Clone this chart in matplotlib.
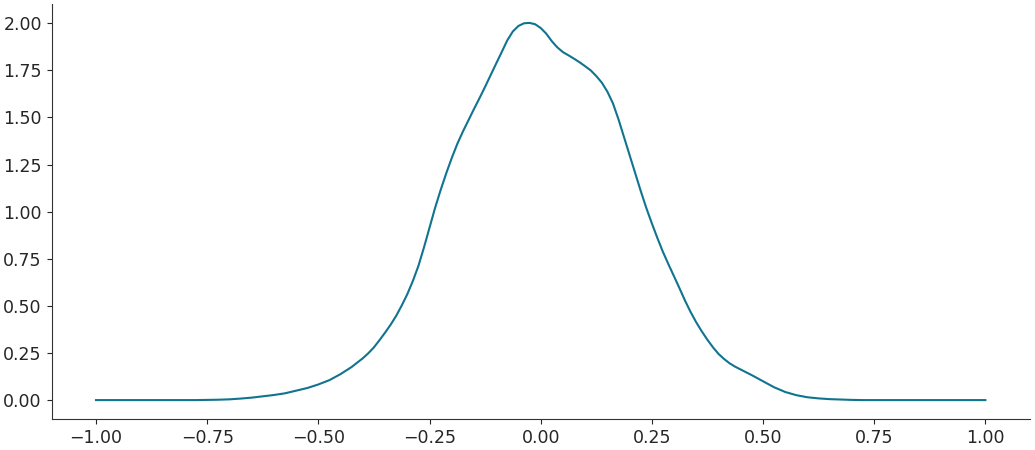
import matplotlib
matplotlib.use("Agg")
import matplotlib.pyplot as plt

# density curve (finer steps around the peak)
x_vals = [
    -1.000, -0.975, -0.950, -0.925, -0.900, -0.875, -0.850, -0.825, -0.800, -0.775,
    -0.750, -0.725, -0.700, -0.675, -0.650, -0.625, -0.600, -0.575, -0.550, -0.525,
    -0.500, -0.475, -0.450, -0.425,
    -0.4000, -0.3875, -0.3750, -0.3625, -0.3500, -0.3375, -0.3250, -0.3125,
    -0.3000, -0.2875, -0.2750, -0.2625, -0.2500, -0.2375, -0.2250, -0.2125,
    -0.2000, -0.1875, -0.1750, -0.1625, -0.1500, -0.1375, -0.1250, -0.1125,
    -0.1000, -0.0875, -0.0750, -0.0625, -0.0500, -0.0375, -0.0250, -0.0125,
    0.0000, 0.0125, 0.0250, 0.0375, 0.0500, 0.0625, 0.0750, 0.0875,
    0.1000, 0.1125, 0.1250, 0.1375, 0.1500, 0.1625, 0.1750, 0.1875,
    0.2000, 0.2125, 0.2250, 0.2375, 0.2500, 0.2625, 0.2750, 0.2875,
    0.3000, 0.3125, 0.3250, 0.3375, 0.3500, 0.3625, 0.3750, 0.3875,
    0.4000, 0.4125, 0.4250, 0.4375, 0.4500,
    0.475, 0.500, 0.525, 0.550, 0.575, 0.600, 0.625, 0.650, 0.675, 0.700,
    0.725, 0.750, 0.775, 0.800, 0.825, 0.850, 0.875, 0.900, 0.925, 0.950, 0.975, 1.000,
]
density = [
    0.000, 0.000, 0.000, 0.000, 0.000, 0.000, 0.000, 0.000, 0.000, 0.000,
    0.001, 0.002, 0.004, 0.008, 0.013, 0.020, 0.027, 0.036, 0.050, 0.064,
    0.083, 0.106, 0.138, 0.176,
    0.222, 0.249, 0.280, 0.318, 0.358, 0.400, 0.447, 0.502,
    0.562, 0.632, 0.712, 0.810, 0.915, 1.020, 1.115, 1.203,
    1.285, 1.360, 1.425, 1.485, 1.545, 1.603, 1.663, 1.725,
    1.787, 1.848, 1.910, 1.957, 1.986, 2.000, 2.002, 1.995,
    1.975, 1.945, 1.905, 1.872, 1.847, 1.830, 1.812, 1.793,
    1.772, 1.750, 1.720, 1.685, 1.637, 1.575, 1.490, 1.395,
    1.300, 1.205, 1.110, 1.020, 0.938, 0.860, 0.786, 0.720,
    0.656, 0.592, 0.526, 0.466, 0.412, 0.364, 0.320, 0.280,
    0.245, 0.218, 0.195, 0.177, 0.162,
    0.132, 0.100, 0.068, 0.043, 0.026, 0.015, 0.009, 0.005, 0.003, 0.001,
    0.000, 0.000, 0.000, 0.000, 0.000, 0.000, 0.000, 0.000, 0.000, 0.000, 0.000, 0.000,
]

plt.rcParams['font.size'] = 12.5
plt.rcParams['text.color'] = '#262626'
plt.rcParams['xtick.color'] = '#262626'
plt.rcParams['ytick.color'] = '#262626'
plt.rcParams['axes.edgecolor'] = '#333333'

fig = plt.figure(figsize=(10.35, 4.5), dpi=100)
ax = fig.add_axes([0.0498, 0.069, 0.9452, 0.922])
ax.plot(x_vals, density, color='#10748f', linewidth=1.5)

ax.set_xticks([-1.0, -0.75, -0.5, -0.25, 0.0, 0.25, 0.5, 0.75, 1.0])
ax.set_yticks([0.0, 0.25, 0.5, 0.75, 1.0, 1.25, 1.5, 1.75, 2.0])
ax.spines['top'].set_visible(False)
ax.spines['right'].set_visible(False)

fig.savefig('out.png', dpi=100)
